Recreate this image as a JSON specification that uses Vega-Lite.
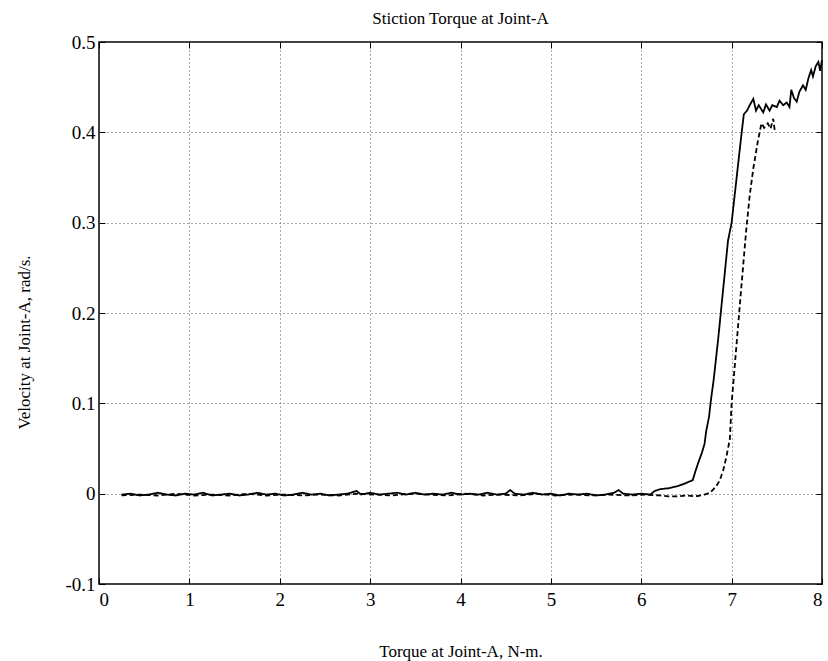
{
  "$schema": "https://vega.github.io/schema/vega-lite/v6.json",
  "width": 723,
  "height": 542,
  "autosize": {"type": "none"},
  "padding": {"left": 99, "top": 42, "right": 6, "bottom": 77},
  "background": "white",
  "title": {"text": "Stiction Torque at Joint-A", "font": "Liberation Serif", "fontSize": 17, "fontWeight": "normal", "color": "black", "anchor": "middle", "baseline": "alphabetic", "offset": -8},
  "config": {
    "view": {"stroke": "black", "strokeWidth": 1.5},
    "axis": {
      "labelFont": "Liberation Serif", "labelFontSize": 19, "labelColor": "black",
      "titleFont": "Liberation Serif", "titleFontSize": 17, "titleFontWeight": "normal", "titleColor": "black",
      "domain": false, "tickColor": "black", "tickSize": -6, "tickWidth": 1,
      "gridColor": "#555", "gridDash": [1, 3], "gridWidth": 1
    }
  },
  "data": {"values": [
    {"x":0.25,"y":-0.001,"run":"A"},{"x":0.35,"y":0.000,"run":"A"},{"x":0.45,"y":-0.002,"run":"A"},{"x":0.55,"y":-0.001,"run":"A"},{"x":0.65,"y":0.001,"run":"A"},{"x":0.75,"y":-0.001,"run":"A"},{"x":0.85,"y":-0.002,"run":"A"},{"x":0.95,"y":0.000,"run":"A"},{"x":1.05,"y":-0.001,"run":"A"},{"x":1.15,"y":0.001,"run":"A"},{"x":1.25,"y":-0.002,"run":"A"},{"x":1.35,"y":-0.001,"run":"A"},{"x":1.45,"y":0.000,"run":"A"},{"x":1.55,"y":-0.002,"run":"A"},{"x":1.65,"y":-0.001,"run":"A"},{"x":1.75,"y":0.001,"run":"A"},{"x":1.85,"y":-0.001,"run":"A"},{"x":1.95,"y":0.000,"run":"A"},{"x":2.05,"y":-0.002,"run":"A"},{"x":2.15,"y":-0.001,"run":"A"},{"x":2.25,"y":0.001,"run":"A"},{"x":2.35,"y":-0.001,"run":"A"},{"x":2.45,"y":0.000,"run":"A"},{"x":2.55,"y":-0.002,"run":"A"},{"x":2.65,"y":-0.001,"run":"A"},{"x":2.75,"y":0.000,"run":"A"},{"x":2.85,"y":0.003,"run":"A"},{"x":2.9,"y":-0.001,"run":"A"},{"x":3.0,"y":0.001,"run":"A"},{"x":3.1,"y":-0.001,"run":"A"},{"x":3.2,"y":0.000,"run":"A"},{"x":3.3,"y":0.001,"run":"A"},{"x":3.4,"y":-0.001,"run":"A"},{"x":3.5,"y":0.001,"run":"A"},{"x":3.6,"y":-0.001,"run":"A"},{"x":3.7,"y":0.000,"run":"A"},{"x":3.8,"y":-0.001,"run":"A"},{"x":3.9,"y":0.001,"run":"A"},{"x":4.0,"y":-0.001,"run":"A"},{"x":4.1,"y":0.000,"run":"A"},{"x":4.2,"y":-0.001,"run":"A"},{"x":4.3,"y":0.001,"run":"A"},{"x":4.4,"y":-0.001,"run":"A"},{"x":4.5,"y":0.000,"run":"A"},{"x":4.55,"y":0.004,"run":"A"},{"x":4.6,"y":0.000,"run":"A"},{"x":4.7,"y":-0.001,"run":"A"},{"x":4.8,"y":0.001,"run":"A"},{"x":4.9,"y":-0.001,"run":"A"},{"x":5.0,"y":0.000,"run":"A"},{"x":5.1,"y":-0.002,"run":"A"},{"x":5.2,"y":0.000,"run":"A"},{"x":5.3,"y":-0.001,"run":"A"},{"x":5.4,"y":0.000,"run":"A"},{"x":5.5,"y":-0.002,"run":"A"},{"x":5.6,"y":-0.001,"run":"A"},{"x":5.7,"y":0.001,"run":"A"},{"x":5.75,"y":0.004,"run":"A"},{"x":5.8,"y":0.000,"run":"A"},{"x":5.9,"y":-0.001,"run":"A"},{"x":6.0,"y":0.000,"run":"A"},{"x":6.1,"y":-0.001,"run":"A"},{"x":6.15,"y":0.003,"run":"A"},{"x":6.21,"y":0.005,"run":"A"},{"x":6.3,"y":0.006,"run":"A"},{"x":6.39,"y":0.008,"run":"A"},{"x":6.45,"y":0.010,"run":"A"},{"x":6.5,"y":0.012,"run":"A"},{"x":6.57,"y":0.015,"run":"A"},{"x":6.6,"y":0.025,"run":"A"},{"x":6.63,"y":0.034,"run":"A"},{"x":6.67,"y":0.045,"run":"A"},{"x":6.7,"y":0.055,"run":"A"},{"x":6.72,"y":0.07,"run":"A"},{"x":6.75,"y":0.085,"run":"A"},{"x":6.77,"y":0.103,"run":"A"},{"x":6.8,"y":0.125,"run":"A"},{"x":6.85,"y":0.17,"run":"A"},{"x":6.9,"y":0.22,"run":"A"},{"x":6.96,"y":0.28,"run":"A"},{"x":7.0,"y":0.30,"run":"A"},{"x":7.05,"y":0.345,"run":"A"},{"x":7.1,"y":0.39,"run":"A"},{"x":7.135,"y":0.42,"run":"A"},{"x":7.17,"y":0.424,"run":"A"},{"x":7.2,"y":0.43,"run":"A"},{"x":7.24,"y":0.437,"run":"A"},{"x":7.27,"y":0.424,"run":"A"},{"x":7.3,"y":0.43,"run":"A"},{"x":7.35,"y":0.422,"run":"A"},{"x":7.38,"y":0.431,"run":"A"},{"x":7.42,"y":0.424,"run":"A"},{"x":7.45,"y":0.43,"run":"A"},{"x":7.5,"y":0.428,"run":"A"},{"x":7.53,"y":0.435,"run":"A"},{"x":7.57,"y":0.43,"run":"A"},{"x":7.61,"y":0.433,"run":"A"},{"x":7.64,"y":0.428,"run":"A"},{"x":7.66,"y":0.447,"run":"A"},{"x":7.69,"y":0.438,"run":"A"},{"x":7.72,"y":0.434,"run":"A"},{"x":7.75,"y":0.445,"run":"A"},{"x":7.79,"y":0.452,"run":"A"},{"x":7.82,"y":0.447,"run":"A"},{"x":7.85,"y":0.46,"run":"A"},{"x":7.88,"y":0.469,"run":"A"},{"x":7.9,"y":0.462,"run":"A"},{"x":7.93,"y":0.473,"run":"A"},{"x":7.96,"y":0.478,"run":"A"},{"x":7.98,"y":0.468,"run":"A"},{"x":8.0,"y":0.48,"run":"A"},
    {"x":0.25,"y":-0.002,"run":"B"},{"x":0.45,"y":-0.001,"run":"B"},{"x":0.65,"y":-0.002,"run":"B"},{"x":0.85,"y":0.000,"run":"B"},{"x":1.05,"y":-0.002,"run":"B"},{"x":1.25,"y":-0.001,"run":"B"},{"x":1.45,"y":-0.002,"run":"B"},{"x":1.65,"y":0.000,"run":"B"},{"x":1.85,"y":-0.002,"run":"B"},{"x":2.05,"y":-0.001,"run":"B"},{"x":2.25,"y":-0.002,"run":"B"},{"x":2.45,"y":-0.001,"run":"B"},{"x":2.65,"y":-0.002,"run":"B"},{"x":2.85,"y":0.000,"run":"B"},{"x":3.05,"y":-0.001,"run":"B"},{"x":3.25,"y":-0.002,"run":"B"},{"x":3.45,"y":0.000,"run":"B"},{"x":3.65,"y":-0.001,"run":"B"},{"x":3.85,"y":-0.002,"run":"B"},{"x":4.05,"y":0.000,"run":"B"},{"x":4.25,"y":-0.002,"run":"B"},{"x":4.45,"y":-0.001,"run":"B"},{"x":4.65,"y":-0.002,"run":"B"},{"x":4.85,"y":0.000,"run":"B"},{"x":5.05,"y":-0.002,"run":"B"},{"x":5.25,"y":-0.001,"run":"B"},{"x":5.45,"y":-0.002,"run":"B"},{"x":5.65,"y":-0.001,"run":"B"},{"x":5.85,"y":-0.002,"run":"B"},{"x":6.05,"y":-0.001,"run":"B"},{"x":6.2,"y":-0.002,"run":"B"},{"x":6.3,"y":-0.003,"run":"B"},{"x":6.4,"y":-0.003,"run":"B"},{"x":6.5,"y":-0.002,"run":"B"},{"x":6.6,"y":-0.003,"run":"B"},{"x":6.7,"y":-0.001,"run":"B"},{"x":6.76,"y":0.001,"run":"B"},{"x":6.8,"y":0.005,"run":"B"},{"x":6.84,"y":0.01,"run":"B"},{"x":6.87,"y":0.015,"run":"B"},{"x":6.91,"y":0.027,"run":"B"},{"x":6.94,"y":0.04,"run":"B"},{"x":6.98,"y":0.06,"run":"B"},{"x":7.0,"y":0.10,"run":"B"},{"x":7.05,"y":0.16,"run":"B"},{"x":7.1,"y":0.22,"run":"B"},{"x":7.16,"y":0.29,"run":"B"},{"x":7.2,"y":0.33,"run":"B"},{"x":7.24,"y":0.36,"run":"B"},{"x":7.29,"y":0.39,"run":"B"},{"x":7.33,"y":0.41,"run":"B"},{"x":7.36,"y":0.405,"run":"B"},{"x":7.4,"y":0.41,"run":"B"},{"x":7.43,"y":0.404,"run":"B"},{"x":7.46,"y":0.415,"run":"B"},{"x":7.48,"y":0.40,"run":"B"}
  ]},
  "layer": [
    {
      "mark": {"type": "line", "color": "black", "strokeWidth": 1.8, "interpolate": "linear"},
      "encoding": {
        "x": {"field": "x", "type": "quantitative", "scale": {"domain": [0, 8], "nice": false, "zero": false},
          "axis": {"values": [0,1,2,3,4,5,6,7,8], "grid": true, "title": "Torque at Joint-A, N-m.", "labelPadding": 12, "titleY": 59, "titleBaseline": "top"}},
        "y": {"field": "y", "type": "quantitative", "scale": {"domain": [-0.1, 0.5], "nice": false, "zero": false},
          "axis": {"values": [-0.1,0,0.1,0.2,0.3,0.4,0.5], "grid": true, "title": "Velocity at Joint-A, rad/s.", "labelPadding": 10, "labelExpr": "datum.value == 0 ? '0' : replace(format(datum.value, '.1f'), '\u2212', '-')", "titleX": -75, "titleY": 300, "titleBaseline": "middle", "titleAngle": -90}},
        "strokeDash": {"field": "run", "type": "nominal", "scale": {"domain": ["A","B"], "range": [[1,0],[5,3]]}, "legend": null}
      }
    },
    {
      "mark": {"type": "line", "opacity": 0},
      "encoding": {
        "x": {"field": "x", "type": "quantitative", "axis": {"orient": "top", "values": [0,1,2,3,4,5,6,7,8], "labels": false, "title": null, "grid": false}},
        "y": {"field": "y", "type": "quantitative", "axis": {"orient": "right", "values": [-0.1,0,0.1,0.2,0.3,0.4,0.5], "labels": false, "title": null, "grid": false}}
      }
    }
  ],
  "resolve": {"axis": {"x": "independent", "y": "independent"}}
}
